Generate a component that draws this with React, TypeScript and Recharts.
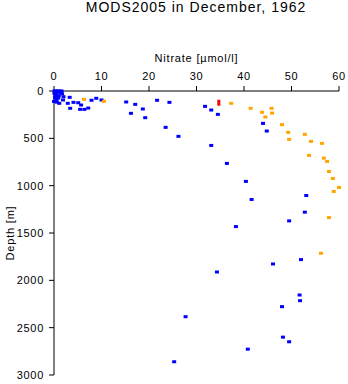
import React from 'react';
import { ScatterChart, Scatter, XAxis, YAxis } from 'recharts';

// [nitrate, depth] pairs
const bluePoints: [number, number][] = [
  [0.1, 0], [0.4, 0], [0.8, 0], [1.2, 0], [1.6, 0], [0.2, 10], [0.9, 12], [1.4, 20],
  [0.1, 25], [0.5, 32], [1.7, 30], [0.3, 48], [1.0, 50], [0.2, 72], [0.9, 75],
  [0.5, 100], [0.0, 110], [1.1, 130], [0.6, 118],
  [2.0, 60], [1.9, 95], [3.3, 67], [2.9, 130], [3.4, 183], [4.1, 120], [5.1, 124],
  [5.7, 148], [5.5, 194], [6.4, 194], [7.2, 180], [7.9, 98], [8.9, 77], [10.0, 95],
  [15.2, 116], [16.2, 236], [17.1, 141], [18.7, 190], [19.2, 282], [21.7, 98],
  [24.3, 120], [23.5, 384], [26.2, 479], [31.8, 162], [33.1, 201], [34.5, 247],
  [44.0, 342], [44.8, 423], [33.1, 575], [36.4, 765], [40.4, 955], [41.6, 1146],
  [53.1, 1104], [52.8, 1280], [49.5, 1372], [38.3, 1432], [52.0, 1781], [46.1, 1827],
  [34.3, 1912], [51.7, 2155], [51.8, 2215], [48.0, 2278], [27.7, 2384], [48.2, 2600],
  [49.5, 2649], [40.8, 2727], [25.3, 2860],
];

const orangePoints: [number, number][] = [
  [6.3, 88], [10.5, 109], [37.3, 130], [41.4, 183], [43.8, 225], [44.5, 275],
  [45.8, 183], [45.9, 233], [48.0, 356], [49.3, 437], [49.5, 511], [52.8, 458],
  [54.1, 532], [56.4, 553], [53.7, 680], [56.8, 709], [57.5, 744], [57.9, 850],
  [58.7, 924], [60.0, 1019], [58.9, 1061], [57.9, 1337], [56.2, 1714],
];

const redPoints: [number, number][] = [[34.7, 124]];

const nitrateTicks = [0, 10, 20, 30, 40, 50, 60];
const depthTicks = [0, 500, 1000, 1500, 2000, 2500, 3000];

const toRows = (pts: [number, number][]) => pts.map(([n, d]) => ({ nitrate: n, depth: d }));

const fontFamily = '"Liberation Sans", Arial, sans-serif';

const box = (color: string, w: number, h: number) => (props: any) => {
  const { cx, cy } = props;
  return <rect x={cx - w / 2} y={cy - h / 2} width={w} height={h} fill={color} />;
};

export default function App() {
  return (
    <div style={{ position: 'absolute', left: 0, top: 0, width: 348, height: 384, background: '#fff' }}>
      <div
        style={{
          position: 'absolute',
          top: -1,
          left: 76,
          width: 240,
          textAlign: 'center',
          fontFamily,
          fontSize: 14,
          letterSpacing: 1,
          color: '#000',
        }}
      >
        MODS2005 in December, 1962
      </div>
      <ScatterChart width={348} height={384} margin={{ top: 46, right: 9, bottom: 9, left: 0 }}>
        <XAxis
          type="number"
          dataKey="nitrate"
          orientation="top"
          domain={[0, 60]}
          ticks={nitrateTicks}
          height={45}
          tickSize={5}
          tickMargin={6}
          stroke="#000"
          tick={{ fill: '#000', fontSize: 11, fontFamily, letterSpacing: 0.7 }}
          label={{
            value: 'Nitrate [µmol/l]',
            position: 'insideTop',
            offset: 8,
            style: { fill: '#000', fontSize: 11, fontFamily, letterSpacing: 0.8 },
          }}
        />
        <YAxis
          type="number"
          dataKey="depth"
          reversed
          domain={[0, 3000]}
          ticks={depthTicks}
          width={54}
          tickSize={5}
          tickMargin={5}
          stroke="#000"
          tick={{ fill: '#000', fontSize: 11, fontFamily, letterSpacing: 0.7 }}
          label={{
            value: 'Depth [m]',
            angle: -90,
            position: 'insideLeft',
            offset: 10,
            style: { fill: '#000', fontSize: 11, fontFamily, textAnchor: 'middle', letterSpacing: 0.8 },
          }}
        />
        <Scatter data={toRows(bluePoints)} shape={box('#0000ff', 4, 3)} isAnimationActive={false} />
        <Scatter data={toRows(orangePoints)} shape={box('#ffa500', 4, 3)} isAnimationActive={false} />
        <Scatter data={toRows(redPoints)} shape={box('#ff0000', 3, 6)} isAnimationActive={false} />
      </ScatterChart>
    </div>
  );
}
